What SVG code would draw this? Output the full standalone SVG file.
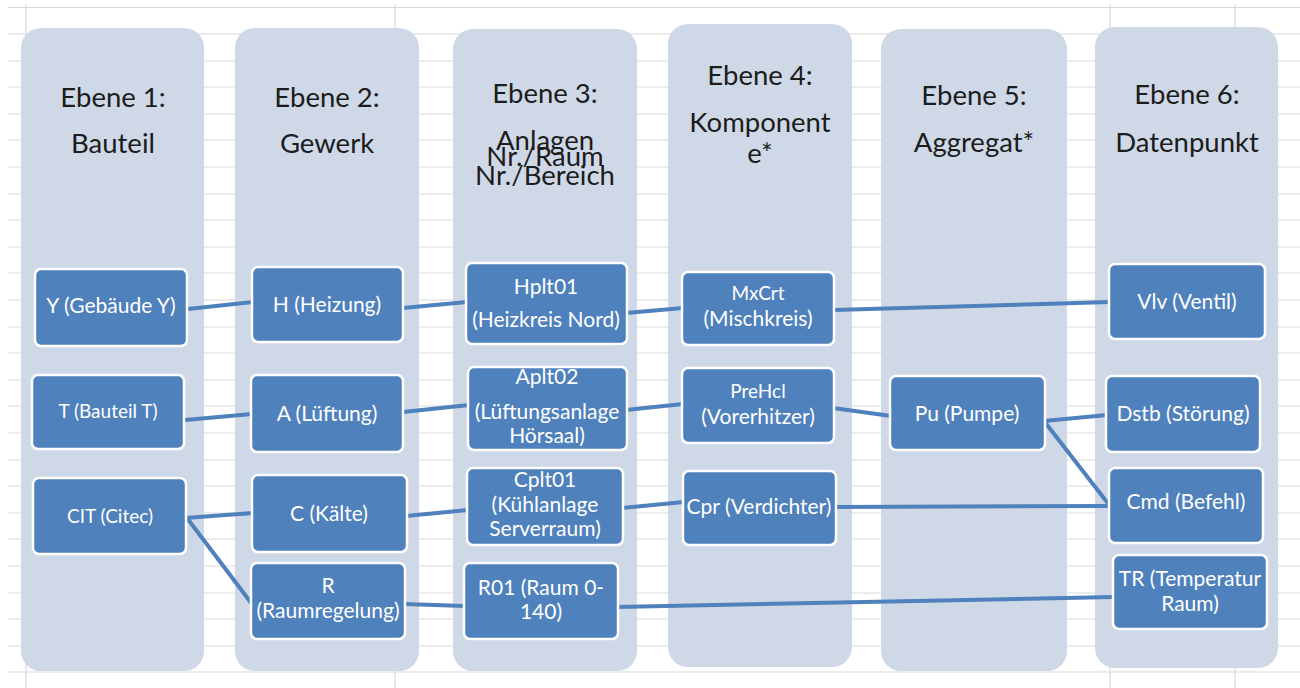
<svg xmlns="http://www.w3.org/2000/svg" width="1300" height="688" viewBox="0 0 1300 688">
<style>
.grid{stroke:#d9d9d9;stroke-width:1.2;fill:none}
.col{fill:#cfd8e7}
.hd{font-family:Lato,"Liberation Sans",sans-serif;font-size:27.5px;fill:#1c1c1c;text-anchor:middle}
.nd{fill:#4f81bd;stroke:#ffffff;stroke-width:2.5}
.t{font-family:Lato,"Liberation Sans",sans-serif;font-size:21px;fill:#ffffff;text-anchor:middle}
.s{font-size:19px}
.cn{stroke:#4f81bd;stroke-width:4;fill:none;stroke-linecap:butt}
</style>
<rect x="0" y="0" width="1300" height="688" fill="#ffffff"/>
<g id="grid">
<path class="grid" d="M8 7.5H1300M8 34H1300M8 61H1300M8 87H1300M8 114H1300M8 140H1300M8 167H1300M8 194H1300M8 220H1300M8 247H1300M8 273H1300M8 300H1300M8 327H1300M8 353H1300M8 380H1300M8 406H1300M8 433H1300M8 460H1300M8 486H1300M8 513H1300M8 539H1300M8 566H1300M8 593H1300M8 619H1300M8 646H1300M8 672H1300"/>
<path class="grid" d="M26 4V688M395 4V688M1110 4V688M1235 4V688"/>
</g>
<g id="columns">
<g id="col1"><rect class="col" x="21" y="28" width="183" height="643" rx="20"/>
<text class="hd" x="113" y="107">Ebene 1:</text><text class="hd" x="113" y="153">Bauteil</text></g>
<g id="col2"><rect class="col" x="235" y="28" width="184" height="643" rx="20"/>
<text class="hd" x="327" y="107">Ebene 2:</text><text class="hd" x="327" y="153">Gewerk</text></g>
<g id="col3"><rect class="col" x="453" y="29" width="184" height="642" rx="20"/>
<text class="hd" x="545" y="103">Ebene 3:</text><text class="hd" x="545" y="150">Anlagen</text><text class="hd" x="545" y="166">Nr./Raum</text><text class="hd" x="545" y="185">Nr./Bereich</text></g>
<g id="col4"><rect class="col" x="668" y="24" width="184" height="643" rx="20"/>
<text class="hd" x="760" y="85">Ebene 4:</text><text class="hd" x="760" y="132">Komponent</text><text class="hd" x="760" y="163">e*</text></g>
<g id="col5"><rect class="col" x="881" y="29" width="186" height="642" rx="20"/>
<text class="hd" x="974" y="105">Ebene 5:</text><text class="hd" x="974" y="152">Aggregat*</text></g>
<g id="col6"><rect class="col" x="1095" y="27" width="183" height="641" rx="20"/>
<text class="hd" x="1187" y="104">Ebene 6:</text><text class="hd" x="1187" y="152">Datenpunkt</text></g>
</g>
<g id="connectors">
<line class="cn" x1="188" y1="309" x2="253" y2="302"/>
<line class="cn" x1="403" y1="308" x2="467" y2="302"/>
<line class="cn" x1="626" y1="313" x2="683" y2="308"/>
<line class="cn" x1="834" y1="310" x2="1110" y2="302"/>
<line class="cn" x1="185" y1="420" x2="252" y2="414"/>
<line class="cn" x1="403" y1="412" x2="469" y2="405"/>
<line class="cn" x1="626" y1="410" x2="683" y2="404"/>
<line class="cn" x1="833" y1="408" x2="891" y2="416"/>
<line class="cn" x1="1044" y1="421" x2="1107" y2="415"/>
<line class="cn" x1="1044" y1="421" x2="1110" y2="506"/>
<line class="cn" x1="185" y1="518" x2="253" y2="513"/>
<line class="cn" x1="187" y1="518" x2="252" y2="604"/>
<line class="cn" x1="406" y1="516" x2="468" y2="510"/>
<line class="cn" x1="622" y1="508" x2="684" y2="502"/>
<line class="cn" x1="835" y1="507" x2="1110" y2="506"/>
<line class="cn" x1="404" y1="604" x2="465" y2="606"/>
<line class="cn" x1="617" y1="607" x2="1114" y2="597"/>
</g>
<g id="n-Y"><rect class="nd" x="35" y="269" width="152" height="77" rx="6"/><text class="t" x="111" y="313">Y (Gebäude Y)</text></g>
<g id="n-T"><rect class="nd" x="32" y="375" width="152" height="74" rx="6"/><text class="t s" x="108" y="418">T (Bauteil T)</text></g>
<g id="n-CIT"><rect class="nd" x="33" y="478" width="153" height="76" rx="6"/><text class="t s" x="110" y="523">CIT (Citec)</text></g>
<g id="n-H"><rect class="nd" x="252" y="267" width="151" height="75" rx="6"/><text class="t" x="327" y="312">H (Heizung)</text></g>
<g id="n-A"><rect class="nd" x="251" y="375" width="152" height="77" rx="6"/><text class="t" x="327" y="421">A (Lüftung)</text></g>
<g id="n-C"><rect class="nd" x="252" y="475" width="155" height="77" rx="6"/><text class="t" x="329" y="521">C (Kälte)</text></g>
<g id="n-R"><rect class="nd" x="251" y="563" width="154" height="76" rx="6"/><text class="t" x="328" y="593">R</text><text class="t" x="328" y="618">(Raumregelung)</text></g>
<g id="n-Hplt01"><rect class="nd" x="466" y="263" width="161" height="81" rx="6"/><text class="t" x="546" y="294">Hplt01</text><text class="t" x="546" y="327">(Heizkreis Nord)</text></g>
<g id="n-Aplt02"><rect class="nd" x="468" y="367" width="159" height="83" rx="6"/><text class="t" x="547" y="384">Aplt02</text><text class="t" x="547" y="419">(Lüftungsanlage</text><text class="t" x="547" y="443">Hörsaal)</text></g>
<g id="n-Cplt01"><rect class="nd" x="467" y="468" width="156" height="77" rx="6"/><text class="t" x="545" y="487">Cplt01</text><text class="t" x="545" y="512">(Kühlanlage</text><text class="t" x="545" y="536">Serverraum)</text></g>
<g id="n-R01"><rect class="nd" x="464" y="563" width="154" height="76" rx="6"/><text class="t" x="541" y="595">R01 (Raum 0-</text><text class="t" x="541" y="619">140)</text></g>
<g id="n-MxCrt"><rect class="nd" x="682" y="272" width="152" height="73" rx="6"/><text class="t s" x="758" y="300">MxCrt</text><text class="t" x="758" y="326">(Mischkreis)</text></g>
<g id="n-PreHcl"><rect class="nd" x="682" y="368" width="152" height="75" rx="6"/><text class="t s" x="758" y="398">PreHcl</text><text class="t" x="758" y="424">(Vorerhitzer)</text></g>
<g id="n-Cpr"><rect class="nd" x="683" y="471" width="153" height="74" rx="6"/><text class="t" x="759" y="514">Cpr (Verdichter)</text></g>
<g id="n-Pu"><rect class="nd" x="890" y="376" width="155" height="74" rx="6"/><text class="t" x="967" y="421">Pu (Pumpe)</text></g>
<g id="n-Vlv"><rect class="nd" x="1109" y="264" width="156" height="75" rx="6"/><text class="t" x="1187" y="309">Vlv (Ventil)</text></g>
<g id="n-Dstb"><rect class="nd" x="1106" y="376" width="154" height="76" rx="6"/><text class="t" x="1183" y="421">Dstb (Störung)</text></g>
<g id="n-Cmd"><rect class="nd" x="1109" y="468" width="154" height="75" rx="6"/><text class="t" x="1186" y="509">Cmd (Befehl)</text></g>
<g id="n-TR"><rect class="nd" x="1113" y="555" width="154" height="74" rx="6"/><text class="t" x="1190" y="586">TR (Temperatur</text><text class="t" x="1190" y="611">Raum)</text></g>
</svg>
